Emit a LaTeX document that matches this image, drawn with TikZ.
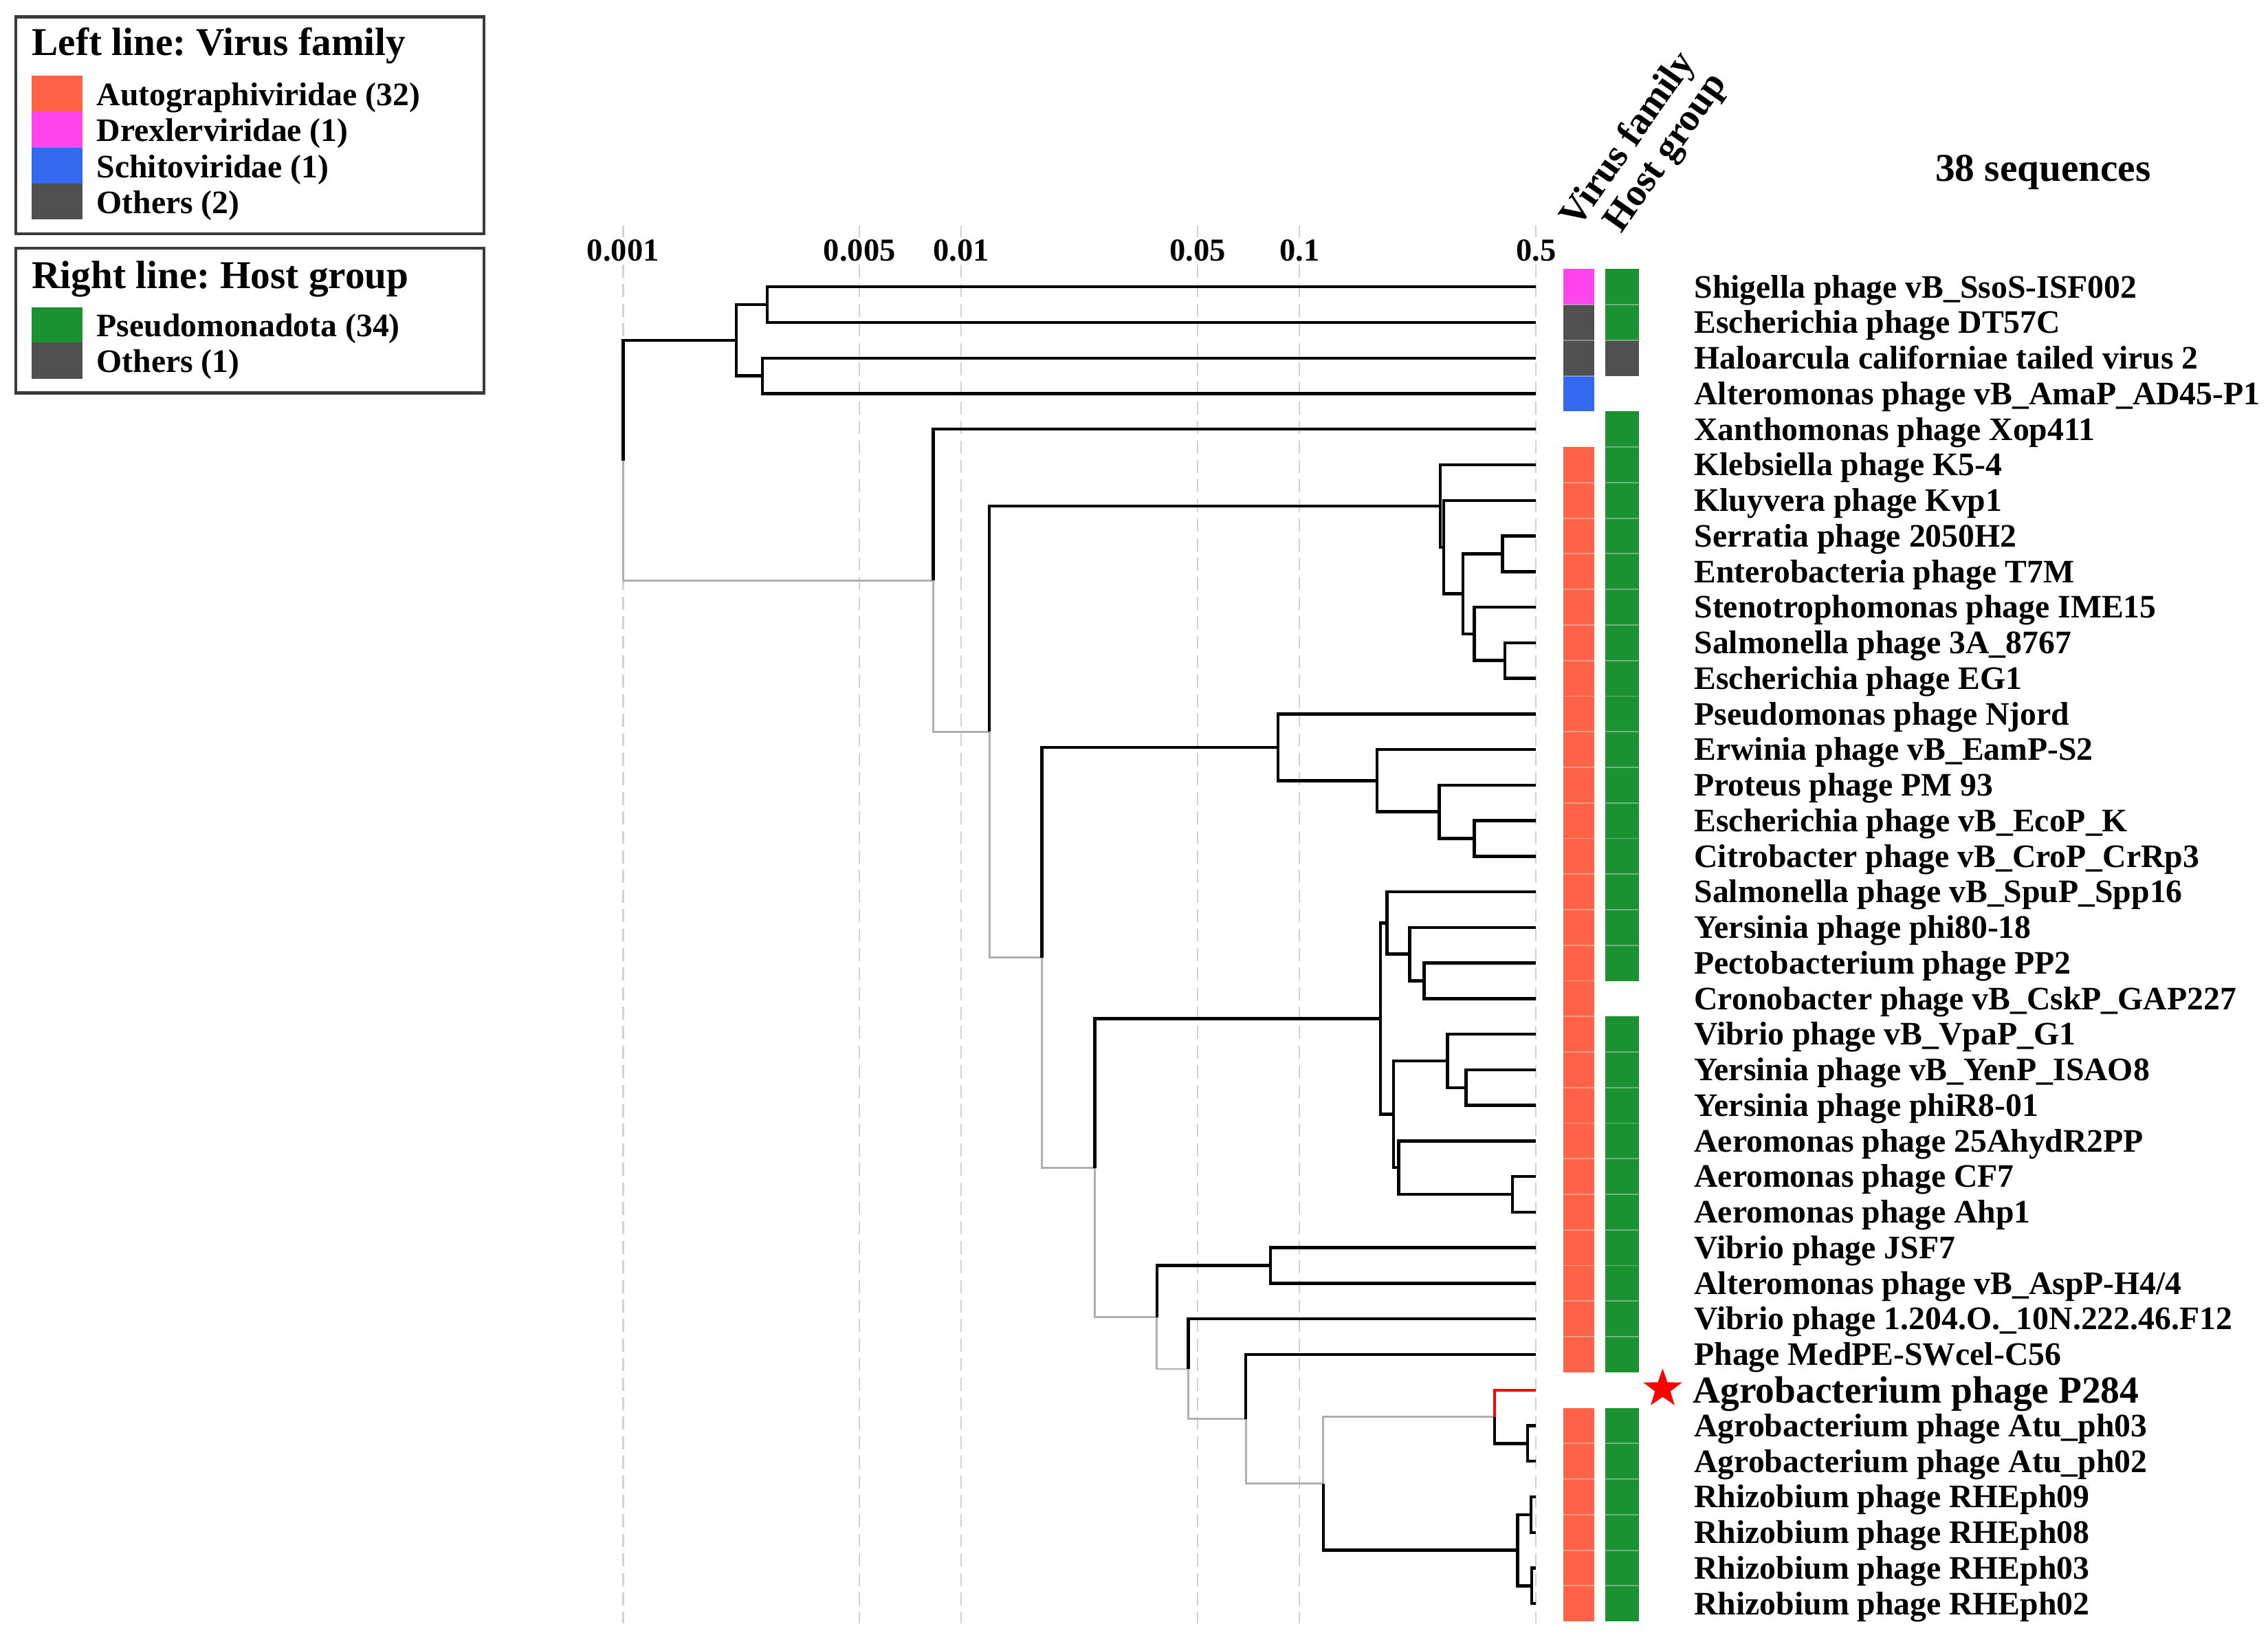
\documentclass[tikz,border=0pt]{standalone}
\usepackage{fontspec}
\setmainfont{Liberation Serif}
\usetikzlibrary{shapes.geometric}
\definecolor{autoc}{HTML}{FF6347}
\definecolor{drexc}{HTML}{FF44EE}
\definecolor{schic}{HTML}{3369EE}
\definecolor{othc}{HTML}{505050}
\definecolor{pseuc}{HTML}{1A9232}
\definecolor{treegray}{HTML}{B0B0B0}
\definecolor{gridgray}{HTML}{D2D2D2}
\definecolor{boxc}{HTML}{3A3A3A}
\frenchspacing
\begin{document}
\begin{tikzpicture}[x=0.02cm,y=-0.02cm,
  blk/.style={line width=1.2pt,black},
  gry/.style={line width=0.8pt,treegray},
  redb/.style={line width=1.0pt,red},
  gridline/.style={dash pattern=on 0.18cm off 0.09cm,line width=0.6pt,gridgray},
  sepline/.style={white,opacity=0.35,line width=0.5pt},
  lab/.style={anchor=base west,inner sep=0pt,font=\fontsize{12.9}{14}\selectfont\bfseries},
  biglab/.style={anchor=base west,inner sep=0pt,font=\fontsize{15}{17}\selectfont\bfseries},
  axlab/.style={anchor=base,fill=white,inner sep=1pt,font=\fontsize{12.6}{14}\selectfont\bfseries},
  legtitle/.style={anchor=base west,inner sep=0pt,font=\fontsize{15.5}{17}\selectfont\bfseries},
  legitem/.style={anchor=base west,inner sep=0pt,font=\fontsize{12.9}{14}\selectfont\bfseries},
  headlab/.style={anchor=base west,inner sep=0pt,rotate=55,font=\fontsize{15.1}{17}\selectfont\bfseries},
  legbox/.style={draw=boxc,line width=1.2pt}]
\useasboundingbox (0,0) rectangle (1568,1136);

% ---------- grid lines and axis ----------
\foreach \gx/\gn in {430.8/g1,594.2/g2,664.6/g3,828.0/g4,898.4/g5,1061.9/g6}{
  \coordinate (\gn top) at (\gx,156);
  \coordinate (\gn bot) at (\gx,1122);
  \draw[gridline] (\gn top) -- (\gn bot);
}
\node[axlab] (a1) at (430.8,180.6) {0.001};
\node[axlab] (a2) at (594.2,180.6) {0.005};
\node[axlab] (a3) at (664.6,180.6) {0.01};
\node[axlab] (a4) at (828.0,180.6) {0.05};
\node[axlab] (a5) at (898.4,180.6) {0.1};
\node[axlab] (a6) at (1061.9,180.6) {0.5};

% ---------- leaf coordinates ----------
\foreach \i in {1,...,38}{
  \coordinate (L\i) at (1062,{198.3+24.6*(\i-1)});
}
% ---------- internal nodes ----------
\coordinate (t12) at (530.3,210.6);
\coordinate (t34) at (527.1,259.8);
\coordinate (t14) at (509.0,235.2);
\coordinate (Z) at (1038.7,382.8);
\coordinate (V) at (1040.5,456.6);
\coordinate (W) at (1019.2,438.15);
\coordinate (Y) at (1011.5,410.5);
\coordinate (X) at (998.0,378.2);
\coordinate (C) at (995.7,349.75);
\coordinate (H) at (1019.2,579.6);
\coordinate (G) at (995.0,561.15);
\coordinate (F) at (951.9,539.6);
\coordinate (E) at (883.6,516.55);
\coordinate (J3) at (984.5,678.0);
\coordinate (J2) at (974.5,659.55);
\coordinate (J1) at (958.8,638.0);
\coordinate (J6) at (1013.5,751.8);
\coordinate (J5) at (1000.8,733.35);
\coordinate (J8) at (1045.6,825.6);
\coordinate (J7) at (967.0,807.15);
\coordinate (J4) at (963.3,770.25);
\coordinate (J) at (954.4,704.1);
\coordinate (Lq) at (878.2,874.8);
\coordinate (R) at (1056.0,997.8);
\coordinate (P) at (1033.3,979.35);
\coordinate (S) at (1058.4,1047.0);
\coordinate (T) at (1059.0,1096.2);
\coordinate (Q) at (1049.3,1071.6);
\coordinate (O) at (914.8,1025.5);
\coordinate (N) at (861.3,980.9);
\coordinate (M) at (821.5,946.3);
\coordinate (K) at (799.8,910.55);
\coordinate (I) at (757.0,807.3);
\coordinate (D) at (720.4,661.95);
\coordinate (B) at (684.0,505.85);
\coordinate (A) at (645.3,401.3);
\coordinate (root) at (430.8,318.25);

% ---------- gray branches ----------
\draw[gry] (root) |- (A);
\draw[gry] (A) |- (B);
\draw[gry] (B) |- (D);
\draw[gry] (D) |- (I);
\draw[gry] (I) |- (K);
\draw[gry] (K) |- (M);
\draw[gry] (M) |- (N);
\draw[gry] (N) |- (O);
\draw[gry] (O) |- (P);

% ---------- black branches ----------
\draw[blk] (root) |- (t14);
\draw[blk] (t14) |- (t12);
\draw[blk] (t14) |- (t34);
\draw[blk] (t12) |- (L1);
\draw[blk] (t12) |- (L2);
\draw[blk] (t34) |- (L3);
\draw[blk] (t34) |- (L4);
\draw[blk] (A) |- (L5);
\draw[blk] (B) |- (C);
\draw[blk] (C) |- (L6);
\draw[blk] (C) |- (X);
\draw[blk] (X) |- (L7);
\draw[blk] (X) |- (Y);
\draw[blk] (Y) |- (Z);
\draw[blk] (Z) |- (L8);
\draw[blk] (Z) |- (L9);
\draw[blk] (Y) |- (W);
\draw[blk] (W) |- (L10);
\draw[blk] (W) |- (V);
\draw[blk] (V) |- (L11);
\draw[blk] (V) |- (L12);
\draw[blk] (D) |- (E);
\draw[blk] (E) |- (L13);
\draw[blk] (E) |- (F);
\draw[blk] (F) |- (L14);
\draw[blk] (F) |- (G);
\draw[blk] (G) |- (L15);
\draw[blk] (G) |- (H);
\draw[blk] (H) |- (L16);
\draw[blk] (H) |- (L17);
\draw[blk] (I) |- (J);
\draw[blk] (J) |- (J1);
\draw[blk] (J1) |- (L18);
\draw[blk] (J1) |- (J2);
\draw[blk] (J2) |- (L19);
\draw[blk] (J2) |- (J3);
\draw[blk] (J3) |- (L20);
\draw[blk] (J3) |- (L21);
\draw[blk] (J) |- (J4);
\draw[blk] (J4) |- (J5);
\draw[blk] (J5) |- (L22);
\draw[blk] (J5) |- (J6);
\draw[blk] (J6) |- (L23);
\draw[blk] (J6) |- (L24);
\draw[blk] (J4) |- (J7);
\draw[blk] (J7) |- (L25);
\draw[blk] (J7) |- (J8);
\draw[blk] (J8) |- (L26);
\draw[blk] (J8) |- (L27);
\draw[blk] (K) |- (Lq);
\draw[blk] (Lq) |- (L28);
\draw[blk] (Lq) |- (L29);
\draw[blk] (M) |- (L30);
\draw[blk] (N) |- (L31);
\draw[blk] (O) |- (Q);
\draw[blk] (P) |- (R);
\draw[blk] (R) |- (L33);
\draw[blk] (R) |- (L34);
\draw[blk] (Q) |- (S);
\draw[blk] (Q) |- (T);
\draw[blk] (S) |- (L35);
\draw[blk] (S) |- (L36);
\draw[blk] (T) |- (L37);
\draw[blk] (T) |- (L38);
\draw[redb] (P) |- (L32);

% ---------- annotation strips ----------
% virus family column
\fill[drexc] (1080.6,{198.3-12.3}) rectangle (1102.2,{198.3+12.3});
\foreach \i in {2,3}{
  \fill[othc] (1080.6,{198.3+24.6*(\i-1)-12.3}) rectangle (1102.2,{198.3+24.6*(\i-1)+12.3});
}
\fill[schic] (1080.6,{198.3+24.6*3-12.3}) rectangle (1102.2,{198.3+24.6*3+12.3});
\foreach \i in {6,...,31}{
  \fill[autoc] (1080.6,{198.3+24.6*(\i-1)-12.3}) rectangle (1102.2,{198.3+24.6*(\i-1)+12.3});
}
\foreach \i in {33,...,38}{
  \fill[autoc] (1080.6,{198.3+24.6*(\i-1)-12.3}) rectangle (1102.2,{198.3+24.6*(\i-1)+12.3});
}
% host group column
\foreach \i in {1,2}{
  \fill[pseuc] (1109.9,{198.3+24.6*(\i-1)-12.3}) rectangle (1132.9,{198.3+24.6*(\i-1)+12.3});
}
\fill[othc] (1109.9,{198.3+24.6*2-12.3}) rectangle (1132.9,{198.3+24.6*2+12.3});
\foreach \i in {5,...,20}{
  \fill[pseuc] (1109.9,{198.3+24.6*(\i-1)-12.3}) rectangle (1132.9,{198.3+24.6*(\i-1)+12.3});
}
\foreach \i in {22,...,31}{
  \fill[pseuc] (1109.9,{198.3+24.6*(\i-1)-12.3}) rectangle (1132.9,{198.3+24.6*(\i-1)+12.3});
}
\foreach \i in {33,...,38}{
  \fill[pseuc] (1109.9,{198.3+24.6*(\i-1)-12.3}) rectangle (1132.9,{198.3+24.6*(\i-1)+12.3});
}
% faint cell separators
\foreach \i in {2,3,4,7,8,9,10,11,12,13,14,15,16,17,18,19,20,21,22,23,24,25,26,27,28,29,30,31,34,35,36,37,38}{
  \draw[sepline] (1080.6,{198.3+24.6*(\i-1)-12.3}) -- (1102.2,{198.3+24.6*(\i-1)-12.3});
}
\foreach \i in {2,3,6,7,8,9,10,11,12,13,14,15,16,17,18,19,20,23,24,25,26,27,28,29,30,31,34,35,36,37,38}{
  \draw[sepline] (1109.9,{198.3+24.6*(\i-1)-12.3}) -- (1132.9,{198.3+24.6*(\i-1)-12.3});
}

% ---------- column headers ----------
\node[headlab] (hvf) at (1091,159) {Virus family};
\node[headlab] (hhg) at (1121,162) {Host group};
\node[anchor=base,inner sep=0pt,font=\fontsize{15.5}{17}\selectfont\bfseries] (nseq) at (1412.5,125) {38 sequences};

% ---------- leaf labels ----------
\node[lab] (n1) at (1171,205.8) {Shigella phage vB\_SsoS-ISF002};
\node[lab] (n2) at (1171,230.4) {Escherichia phage DT57C};
\node[lab] (n3) at (1171,255.0) {Haloarcula californiae tailed virus 2};
\node[lab] (n4) at (1171,279.6) {Alteromonas phage vB\_AmaP\_AD45-P1};
\node[lab] (n5) at (1171,304.2) {Xanthomonas phage Xop411};
\node[lab] (n6) at (1171,328.8) {Klebsiella phage K5-4};
\node[lab] (n7) at (1171,353.4) {Kluyvera phage Kvp1};
\node[lab] (n8) at (1171,378.0) {Serratia phage 2050H2};
\node[lab] (n9) at (1171,402.6) {Enterobacteria phage T7M};
\node[lab] (n10) at (1171,427.2) {Stenotrophomonas phage IME15};
\node[lab] (n11) at (1171,451.8) {Salmonella phage 3A\_8767};
\node[lab] (n12) at (1171,476.4) {Escherichia phage EG1};
\node[lab] (n13) at (1171,501.0) {Pseudomonas phage Njord};
\node[lab] (n14) at (1171,525.6) {Erwinia phage vB\_EamP-S2};
\node[lab] (n15) at (1171,550.2) {Proteus phage PM 93};
\node[lab] (n16) at (1171,574.8) {Escherichia phage vB\_EcoP\_K};
\node[lab] (n17) at (1171,599.4) {Citrobacter phage vB\_CroP\_CrRp3};
\node[lab] (n18) at (1171,624.0) {Salmonella phage vB\_SpuP\_Spp16};
\node[lab] (n19) at (1171,648.6) {Yersinia phage phi80-18};
\node[lab] (n20) at (1171,673.2) {Pectobacterium phage PP2};
\node[lab] (n21) at (1171,697.8) {Cronobacter phage vB\_CskP\_GAP227};
\node[lab] (n22) at (1171,722.4) {Vibrio phage vB\_VpaP\_G1};
\node[lab] (n23) at (1171,747.0) {Yersinia phage vB\_YenP\_ISAO8};
\node[lab] (n24) at (1171,771.6) {Yersinia phage phiR8-01};
\node[lab] (n25) at (1171,796.2) {Aeromonas phage 25AhydR2PP};
\node[lab] (n26) at (1171,820.8) {Aeromonas phage CF7};
\node[lab] (n27) at (1171,845.4) {Aeromonas phage Ahp1};
\node[lab] (n28) at (1171,870.0) {Vibrio phage JSF7};
\node[lab] (n29) at (1171,894.6) {Alteromonas phage vB\_AspP-H4/4};
\node[lab] (n30) at (1171,919.2) {Vibrio phage 1.204.O.\_10N.222.46.F12};
\node[lab] (n31) at (1171,943.8) {Phage MedPE-SWcel-C56};
\node[biglab] (n32) at (1170,969.9) {Agrobacterium phage P284};
\node[lab] (n33) at (1171,993.0) {Agrobacterium phage Atu\_ph03};
\node[lab] (n34) at (1171,1017.6) {Agrobacterium phage Atu\_ph02};
\node[lab] (n35) at (1171,1042.2) {Rhizobium phage RHEph09};
\node[lab] (n36) at (1171,1066.8) {Rhizobium phage RHEph08};
\node[lab] (n37) at (1171,1091.4) {Rhizobium phage RHEph03};
\node[lab] (n38) at (1171,1116.0) {Rhizobium phage RHEph02};
\node[star,star points=5,star point ratio=2.5,fill=red,draw=none,inner sep=0pt,minimum size=0.56cm] (star) at (1149.5,960.0) {};

% ---------- legends ----------
\draw[legbox] (10.9,11.6) rectangle (334.6,161.7);
\node[legtitle] (lt1) at (21.8,38.4) {Left line: Virus family};
\fill[autoc] (21.8,52.2) rectangle (57.1,77.1);
\fill[drexc] (21.8,77.1) rectangle (57.1,102.0);
\fill[schic] (21.8,102.0) rectangle (57.1,126.9);
\fill[othc] (21.8,126.9) rectangle (57.1,151.8);
\node[legitem] (li1) at (66.5,73.0) {Autographiviridae (32)};
\node[legitem] (li2) at (66.5,97.9) {Drexlerviridae (1)};
\node[legitem] (li3) at (66.5,122.8) {Schitoviridae (1)};
\node[legitem] (li4) at (66.5,147.7) {Others (2)};

\draw[legbox] (10.9,171.6) rectangle (334.6,271.6);
\node[legtitle] (lt2) at (21.8,199.5) {Right line: Host group};
\fill[pseuc] (21.8,212.3) rectangle (57.1,236.8);
\fill[othc] (21.8,236.8) rectangle (57.1,261.8);
\node[legitem] (li5) at (66.5,232.6) {Pseudomonadota (34)};
\node[legitem] (li6) at (66.5,257.4) {Others (1)};
\end{tikzpicture}
\end{document}
